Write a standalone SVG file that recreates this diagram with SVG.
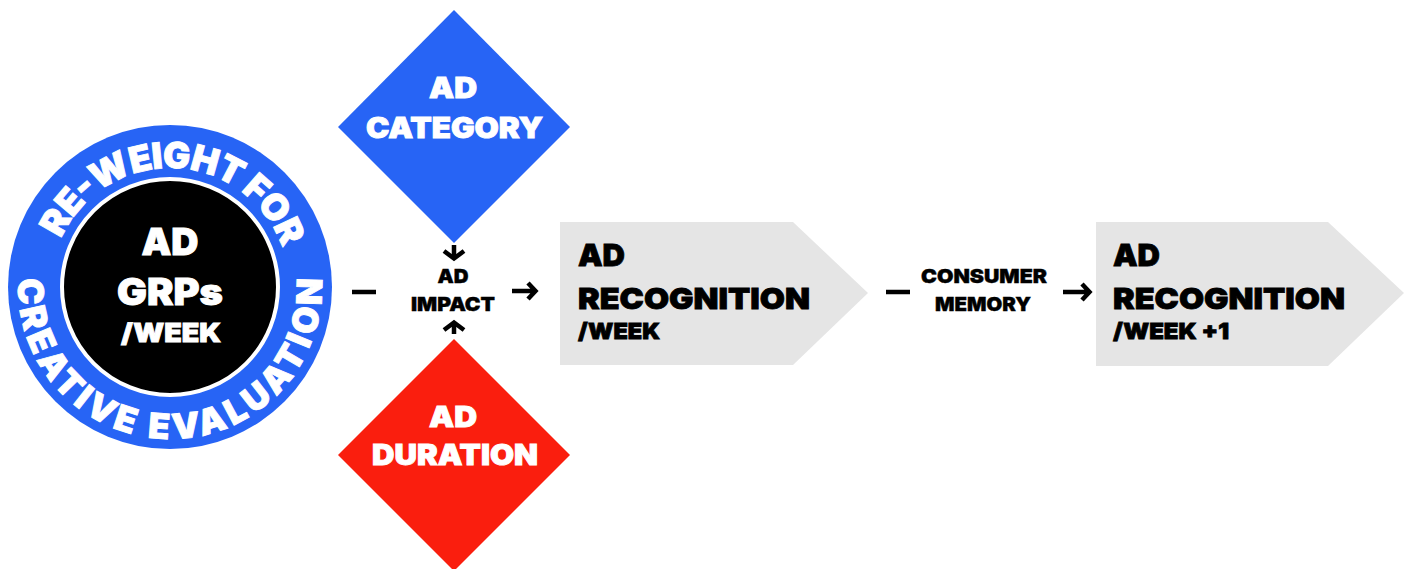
<svg xmlns="http://www.w3.org/2000/svg" width="1408" height="569" viewBox="0 0 1408 569">
<style>
.t{font-family:Inter,"Liberation Sans",sans-serif;font-weight:900}
.w{fill:#fff;stroke:#fff;stroke-width:0.9}
.k{fill:#000;stroke:#000;stroke-width:0.8}
.s{stroke-width:0.4}
.c{text-anchor:middle}
.ln{fill:none;stroke:#000;stroke-width:4.5;stroke-linecap:butt;stroke-linejoin:miter}
</style>
<defs>
<path id="topArc" d="M58.17 327.70 A119 119 0 1 1 281.83 327.70"/>
<path id="botArc" d="M20.31 260.61 A152 152 0 1 0 319.69 260.61"/>
</defs>
<rect width="1408" height="569" fill="#fff"/>
<g id="node-grps">
<circle cx="170" cy="287" r="162" fill="#2764f5"/>
<circle cx="170" cy="287" r="108" fill="#000" stroke="#fff" stroke-width="4"/>
<text class="t w" font-size="36"><textPath href="#topArc" startOffset="233" text-anchor="middle" textLength="284" lengthAdjust="spacing">RE-WEIGHT FOR</textPath></text>
<text class="t w" font-size="35"><textPath href="#botArc" startOffset="50%" text-anchor="middle" textLength="494" lengthAdjust="spacing">CREATIVE EVALUATION</textPath></text>
<text class="t w c" x="170" y="255" font-size="37" textLength="57" lengthAdjust="spacingAndGlyphs">AD</text>
<text class="t w c" x="170" y="305" font-size="37" textLength="106" lengthAdjust="spacingAndGlyphs">GRPs</text>
<text class="t w c" x="171" y="342" font-size="26" textLength="100" lengthAdjust="spacingAndGlyphs">/WEEK</text>
</g>
<g id="node-category">
<polygon points="454,10 570,127 454,243 338,127" fill="#2764f5"/>
<text class="t w c" x="453" y="98" font-size="28" textLength="48" lengthAdjust="spacingAndGlyphs">AD</text>
<text class="t w c" x="454.5" y="138" font-size="28" textLength="177" lengthAdjust="spacingAndGlyphs">CATEGORY</text>
</g>
<g id="node-duration">
<polygon points="454,339 570,455 454,571 338,455" fill="#fa1e0e"/>
<text class="t w c" x="453" y="427" font-size="28" textLength="48" lengthAdjust="spacingAndGlyphs">AD</text>
<text class="t w c" x="455" y="465" font-size="28" textLength="166" lengthAdjust="spacingAndGlyphs">DURATION</text>
</g>
<g id="node-impact">
<text class="t k s c" x="453" y="283" font-size="19" textLength="31" lengthAdjust="spacingAndGlyphs">AD</text>
<text class="t k s c" x="453" y="311" font-size="19" textLength="84" lengthAdjust="spacingAndGlyphs">IMPACT</text>
</g>
<g id="node-recognition">
<polygon points="560,222 793,222 868,293 793,365 560,365" fill="#e5e5e5"/>
<text class="t k" x="578" y="266" font-size="30" textLength="47" lengthAdjust="spacingAndGlyphs">AD</text>
<text class="t k" x="578" y="309" font-size="29" textLength="232" lengthAdjust="spacingAndGlyphs">RECOGNITION</text>
<text class="t k" x="578" y="339" font-size="22" textLength="82" lengthAdjust="spacingAndGlyphs">/WEEK</text>
</g>
<g id="node-memory">
<text class="t k s c" x="984" y="283" font-size="19" textLength="126" lengthAdjust="spacingAndGlyphs">CONSUMER</text>
<text class="t k s c" x="983" y="311" font-size="19" textLength="96" lengthAdjust="spacingAndGlyphs">MEMORY</text>
</g>
<g id="node-recognition-next">
<polygon points="1096,222 1328,222 1404,293 1328,366 1096,366" fill="#e5e5e5"/>
<text class="t k" x="1113" y="266" font-size="30" textLength="47" lengthAdjust="spacingAndGlyphs">AD</text>
<text class="t k" x="1113" y="309" font-size="29" textLength="232" lengthAdjust="spacingAndGlyphs">RECOGNITION</text>
<text class="t k" x="1113" y="339" font-size="22" textLength="116" lengthAdjust="spacingAndGlyphs">/WEEK +1</text>
</g>
<g id="connectors">
<path class="ln" d="M352 292 H376" stroke-width="5"/>
<path class="ln" d="M512 291 H535 M528 283 L535.5 291 L528 299"/>
<path class="ln" d="M454 245 V258 M444 251 L454 258.5 L464 251"/>
<path class="ln" d="M454 334 V323 M444 330 L454 322.5 L464 330"/>
<path class="ln" d="M886 292 H910" stroke-width="5"/>
<path class="ln" d="M1063 292 H1089 M1082 284 L1089.5 292 L1082 300"/>
</g>
</svg>
